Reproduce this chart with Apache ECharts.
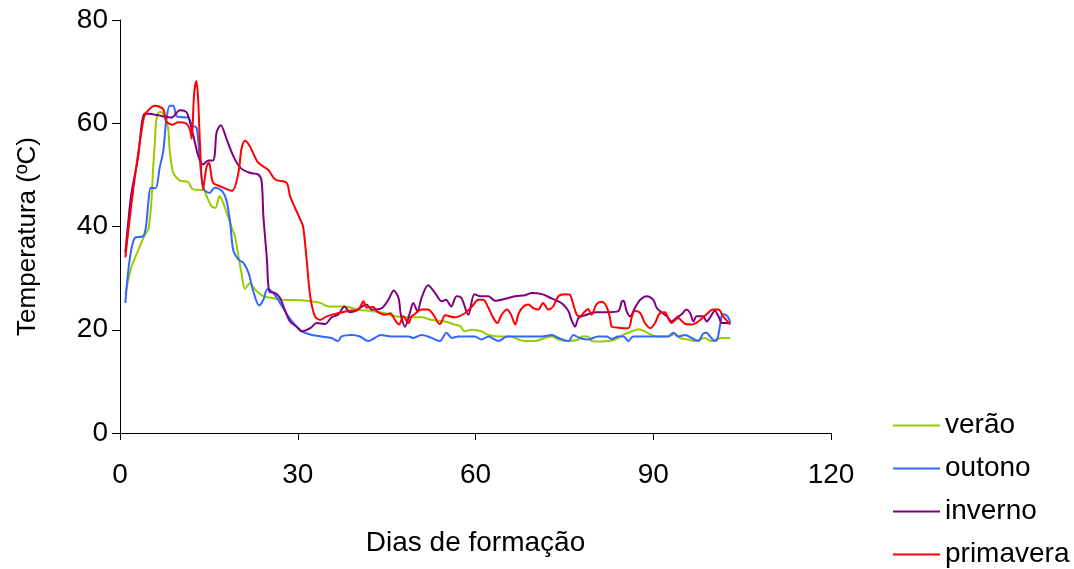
<!DOCTYPE html>
<html>
<head>
<meta charset="utf-8">
<script src="https://cdn.jsdelivr.net/npm/echarts@6/dist/echarts.min.js"></script>
<style>html,body{margin:0;padding:0;background:#fff}#c{width:1074px;height:569px}</style>
</head>
<body>
<div id="c"></div>
<script>
const seriesNames = ['verão', 'outono', 'inverno', 'primavera'];
const xTicks = [0, 30, 60, 90, 120];
const yTicks = [0, 20, 40, 60, 80];

const verao = [[0.9,26.8],[1.9,32],[3,35.2],[4.2,38.4],[4.8,39.5],[5.3,44.9],[5.6,51.4],[5.9,56.6],[6.1,60.4],[6.5,62.1],[6.9,62.2],[7.5,61.4],[8.1,59.2],[8.4,54.6],[8.9,50.7],[9.5,49.5],[10.3,48.8],[11.4,48.7],[12.3,47.2],[13.4,47.1],[14.2,47],[14.6,45.9],[15.4,44],[16.1,43.6],[16.8,45.9],[17.4,44.6],[18,42.7],[18.8,40],[19.4,38.1],[20,34.2],[20.5,31],[21.1,27.9],[21.9,29],[22.8,27.8],[24.2,26.5],[25.9,26.1],[27.6,25.8],[30.4,25.7],[32.1,25.5],[33.8,25.2],[35.2,24.5],[38,24.5],[40.2,23.9],[42.5,23.6],[44.7,23.2],[46.4,22.6],[48.7,22.4],[50.9,22.4],[52.6,21.9],[54.9,21.6],[56.5,21],[57.4,20.7],[58.2,19.7],[59.4,20],[61,19.7],[62.2,19],[64.4,18.7],[66,18.7],[67.2,18.1],[68.4,17.8],[70,17.8],[71.7,18.4],[72.9,18.7],[74,18.1],[75.7,17.8],[77.4,18.1],[77.9,18.7],[79,18.7],[79.6,17.8],[80.7,17.7],[82.4,17.8],[83.5,18.1],[84.9,19],[86.4,19.7],[87.5,20.1],[88.6,19.7],[89.7,19],[90.8,18.7],[92.5,18.7],[93.7,19.2],[94.5,18.4],[95.9,18.1],[97,17.8],[97.9,18.1],[98.7,18.4],[99.8,17.8],[100.6,18.1],[101.5,18.4],[103,18.4]];

const outono = [[0.9,25.2],[1.6,33.3],[2.5,37.8],[3.9,38.1],[4.4,40.1],[4.8,44.9],[5.2,47.5],[6,47.4],[6.7,51.4],[7.3,54.6],[7.8,60.4],[8.4,63.4],[9,63.4],[9.5,61.4],[10.1,61.2],[11.5,61.1],[12.2,59.5],[12.9,59.2],[13.3,55.3],[13.7,50.1],[14.2,47.2],[15.1,46.5],[16,47.5],[17.2,46.9],[18,44.9],[18.6,40.7],[19.1,35.5],[20,33.6],[20.8,33],[21.7,31],[22.5,27.4],[23.5,24.7],[24.2,25.8],[24.9,27.9],[25.9,27.1],[27,25.2],[28.4,22.6],[29.5,21],[30.7,19.7],[32.4,19],[34,18.7],[35.7,18.4],[36.8,17.8],[37.4,18.7],[39.1,19],[40.5,18.7],[41.9,17.8],[43,18.4],[44,19],[45.8,18.7],[48.7,18.7],[49.5,18.4],[50.9,19],[52,18.7],[53.2,18.1],[54,17.8],[55.1,19.4],[56,18.4],[57.1,18.7],[59.9,18.7],[61,18.1],[62.2,18.7],[63.9,17.8],[65.3,18.7],[71.2,18.7],[72.9,19],[74,18.4],[75.7,17.8],[76.5,19],[77.6,18.4],[79,18.1],[80.7,18.7],[82.1,18.7],[83,18.2],[84.1,18.7],[85,18.7],[85.8,17.8],[86.6,18.7],[89.7,18.7],[92.5,18.7],[93.4,19.4],[94.2,18.7],[95.4,19],[96.5,18.4],[97.6,17.8],[98.4,19.2],[99,19.4],[99.6,18.7],[100.4,17.8],[100.8,18.1],[101.3,21],[101.6,22.9],[102,23],[102.7,22.3],[103,21.3]];

const inverno = [[0.9,35],[1.35,40.4],[1.9,46.2],[3,53],[4.2,61.9],[5.3,61.8],[7,61.4],[8.7,61.1],[10.1,62.5],[10.9,62.4],[11.4,61.8],[12.4,57.5],[13.2,53.7],[14,52],[14.9,52.8],[15.7,52.8],[16,54],[16.3,58.2],[17,59.6],[18,56.9],[19.1,53.7],[20.3,51.4],[21.9,50.4],[23.3,50.1],[23.9,48.8],[24.2,42],[24.8,33.6],[25.2,27.4],[26.2,27.1],[27,26.2],[27.8,23.9],[28.7,21.6],[29.8,20.6],[30.7,19.7],[32.1,20.3],[33.2,21.3],[34.6,21.1],[35.7,22.4],[36.8,22.9],[37.9,24.5],[38.8,23.4],[39.7,23.6],[40.8,24.5],[41.6,24.9],[42.5,23.9],[44.2,24.2],[45.3,25.8],[46.2,27.6],[47,26.2],[47.4,22.9],[48.1,20.6],[48.9,23.2],[49.5,25.2],[50.2,23.6],[50.9,26.2],[52,28.6],[53.2,27.1],[54.3,25.5],[55,25.8],[55.9,24.5],[56.8,26.5],[57.6,26.2],[58.8,22.9],[59.8,26.9],[60.8,26.5],[62.2,26.5],[63.3,25.6],[65,26],[66.7,26.5],[68.4,26.7],[69.5,27.1],[71.2,26.9],[72.6,26.2],[74,25.5],[74.8,24.9],[75.7,23.6],[76.2,21.9],[76.8,20.6],[77.4,22.3],[78.5,22.8],[80.2,23.4],[82.4,23.4],[84.1,23.6],[84.7,25.5],[85,25.6],[85.5,23.6],[86.1,22.6],[86.9,24.2],[87.8,25.8],[88.9,26.5],[90,25.8],[90.6,24.2],[91.4,23.4],[92.3,22.6],[93.1,21.6],[94,22.4],[94.8,23],[95.6,23.9],[96.2,23.3],[96.8,21.6],[97.3,22.6],[98.4,22.6],[99,21.6],[99.6,22.4],[100.4,23.7],[101,22.6],[101.6,21.3],[102.7,21.3]];

const primavera = [[0.9,34],[2.2,46.8],[3.9,60.4],[4.4,62],[5.9,63.4],[7.3,62.7],[7.8,60.4],[8.9,59.7],[9.8,60.2],[11.1,60],[11.8,58.8],[12.1,57],[12.5,65.6],[12.9,68.2],[13.2,64.3],[13.5,56],[14,47.2],[14.6,51.5],[15,52.4],[15.7,48.5],[16.9,47.8],[18.9,46.9],[20,50.5],[20.5,55],[21.1,56.6],[21.9,55.6],[23.3,52.4],[25,51],[26.2,49.1],[28.1,48.5],[28.7,45.9],[30.4,41.4],[30.9,40],[31.5,33.6],[32.1,26.5],[32.9,22.6],[33.8,21.9],[34.9,22.6],[36.8,23.2],[38.8,23.7],[40.2,23.9],[41.1,25.5],[41.6,24.3],[42.8,24.4],[43.3,23.6],[44.7,22.9],[45.6,23.2],[46.4,21.9],[47.1,21],[47.8,22.6],[48.7,21.3],[49.2,22.6],[49.6,22.9],[50.9,23.9],[52,23.9],[52.9,22.9],[53.7,21.3],[54,21.1],[54.9,22.8],[56.5,22.4],[58.2,23.2],[59.4,24.5],[60.5,25.8],[61.3,25.8],[62.2,24.2],[63,22.3],[63.7,21.3],[64.4,22.9],[65.3,23.9],[66,22.9],[66.7,21],[67.3,23.2],[68.1,24.5],[68.9,24.9],[69.8,24.2],[70.6,23.9],[71.4,25.2],[72.3,23.9],[73.1,24.5],[74,26.5],[75.1,26.9],[75.9,26.8],[76.5,24.9],[77.1,22.9],[77.6,22.6],[78.5,23.6],[79,24],[79.6,22.9],[80.4,24.9],[81.3,25.4],[82.1,24.5],[82.7,22.3],[83,20.6],[84.1,20.4],[85.8,20.3],[86.4,22.6],[86.9,23.7],[87.8,23.2],[88.6,21.3],[89.5,20.3],[90.3,21.3],[91.1,23.2],[92,23.4],[92.5,22.3],[93.1,21.3],[94.2,22.3],[95.4,21.1],[96.5,21],[97.6,21.6],[99,23],[100.1,23.9],[101,23.9],[101.8,22.6],[103,21]];

const colors = ['#99CC00', '#3366FF', '#800080', '#FF0000'];
const allData = [verao, outono, inverno, primavera];
const FONT = "'Liberation Sans', Arial, sans-serif";

const chart = echarts.init(document.getElementById('c'), null, {renderer: 'canvas'});
chart.setOption({
  animation: false,
  backgroundColor: '#ffffff',
  grid: {left: 120, top: 20, width: 711, height: 413, containLabel: false},
  legend: {
    orient: 'vertical',
    left: 893,
    top: 411,
    bottom: 0,
    padding: 0,
    itemWidth: 47,
    itemHeight: 2,
    itemGap: 14,
    icon: 'rect',
    textStyle: {fontFamily: FONT, fontSize: 28, lineHeight: 29, color: '#000', padding: [0, 0, 0, 0]},
    data: seriesNames
  },
  xAxis: {
    type: 'value',
    min: xTicks[0], max: xTicks[xTicks.length - 1], interval: 30,
    name: 'Dias de formação',
    nameLocation: 'middle',
    nameGap: 96,
    nameTextStyle: {fontFamily: FONT, fontSize: 28, color: '#000'},
    axisLine: {lineStyle: {color: '#000', width: 1}},
    axisTick: {show: true, length: 7, lineStyle: {color: '#000'}},
    axisLabel: {fontFamily: FONT, fontSize: 28, color: '#000', margin: 28},
    splitLine: {show: false}
  },
  yAxis: {
    type: 'value',
    min: yTicks[0], max: yTicks[yTicks.length - 1], interval: 20,
    name: 'Temperatura (ºC)',
    nameLocation: 'middle',
    nameGap: 79,
    nameTextStyle: {fontFamily: FONT, fontSize: 26, color: '#000', padding: [0, 20, 0, 0]},
    axisLine: {show: true, lineStyle: {color: '#000', width: 1}},
    axisTick: {show: true, length: 8, lineStyle: {color: '#000'}},
    axisLabel: {fontFamily: FONT, fontSize: 28, color: '#000', margin: 12},
    splitLine: {show: false}
  },
  series: seriesNames.map((n, i) => ({
    name: n,
    type: 'line',
    data: allData[i],
    smooth: 0.3,
    showSymbol: false,
    symbol: 'none',
    lineStyle: {color: colors[i], width: 2},
    itemStyle: {color: colors[i]}
  }))
});
</script>
</body>
</html>
